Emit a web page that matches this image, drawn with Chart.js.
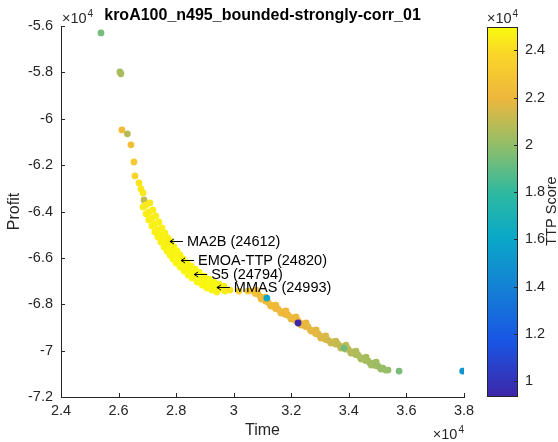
<!DOCTYPE html>
<html><head><meta charset="utf-8">
<script src="https://cdn.jsdelivr.net/npm/chart.js@4.4.0/dist/chart.umd.min.js"></script>
<style>
html,body{margin:0;padding:0;background:#fff;}
#wrap{position:relative;width:558px;height:442px;overflow:hidden;}
#main{position:absolute;left:0;top:0;}
#cbar{position:absolute;left:480px;top:0;}
</style></head><body>
<div id="wrap"><canvas id="main" width="558" height="442"></canvas><canvas id="cbar" width="78" height="442"></canvas></div>
<script>
const titleText = 'kroA100_n495_bounded-strongly-corr_01';
const xLabel = 'Time';
const yLabel = 'Profit';
const cbLabel = 'TTP Score';
const xTickValues = [24000, 26000, 28000, 30000, 32000, 34000, 36000, 38000];
const xTickLabels = ['2.4', '2.6', '2.8', '3', '3.2', '3.4', '3.6', '3.8'];
const yTickValues = [-72000, -70000, -68000, -66000, -64000, -62000, -60000, -58000, -56000];
const yTickLabels = ['-7.2', '-7', '-6.8', '-6.6', '-6.4', '-6.2', '-6', '-5.8', '-5.6'];
const cbTickValues = [10000, 12000, 14000, 16000, 18000, 20000, 22000, 24000];
const cbTickLabels = ['1', '1.2', '1.4', '1.6', '1.8', '2', '2.2', '2.4'];
const cbMin = 9320, cbMax = 24993;

const timeVals = [
  31710, 34740,
  25390, 26045, 26080, 26115, 26305, 26430, 26535, 26570, 26710, 26780, 26850, 26885,
  26850, 26955, 27050, 27155, 27260, 27365, 27470, 27575, 27680, 27785, 27890, 27995, 28135, 28275, 28415, 28555, 28730, 28905, 29065, 29240, 29415,
  26955, 27050, 27155, 27260, 27365, 27470, 27575, 27680, 27785, 27890, 27995, 28100, 28240, 28380, 28520, 28660, 28835, 29010, 29170, 29345, 29520, 29695,
  27085, 27190, 27295, 27400, 27505, 27610, 27715, 27820, 27925, 28030, 28135, 28240, 28380, 28520, 28660, 28800, 28975, 29135, 29310, 29485, 29660,
  29870, 30180, 30495,
  30955, 31290, 31640, 31990, 32340, 32690, 33025, 33375, 33725, 34075, 34425, 34775, 35115,
  30675, 30850, 31010, 31185, 31360, 31535, 31710, 31885, 32060, 32235, 32410, 32585, 32760, 32935, 33095, 33270, 33445, 33620, 33795, 33970, 34145, 34320, 34495, 34670, 34845, 35010, 35185, 35360,
  30780, 31115, 31465, 31815, 32165, 32515, 32865, 33200, 33550, 33900, 34250, 34600, 34950,
  30757, 30931, 31104, 31278, 31452, 31625, 31799, 31973, 32147, 32320, 32494, 32668, 32841, 33015, 33189, 33362, 33536, 33710, 33883, 34057, 34231, 34405, 34578, 34752, 34926, 35099, 35273,
  32235, 31150, 33830, 35745, 37955
];
const profitVals = [
  -68375, -70537,
  -56300, -57975, -58060, -60480, -60650, -61125, -61860, -62465, -62770, -63025, -63200, -63500,
  -63805, -64103, -64362, -64622, -64881, -65097, -65313, -65530, -65703, -65875, -66048, -66221, -66394, -66567, -66740, -66870, -67043, -67173, -67302, -67389, -67475,
  -63720, -64020, -64276, -64535, -64794, -65011, -65227, -65443, -65616, -65789, -65962, -66135, -66308, -66481, -66611, -66740, -66913, -67043, -67173, -67259, -67346, -67432,
  -63632, -63930, -64189, -64449, -64708, -64924, -65140, -65357, -65530, -65703, -65875, -66048, -66221, -66351, -66481, -66611, -66784, -66913, -67043, -67129, -67216,
  -67390, -67430, -67430,
  -67778, -68073, -68375, -68635, -68894, -69154, -69456, -69673, -69889, -70105, -70364, -70624, -70797,
  -67432, -67562, -67735, -67908, -68073, -68202, -68332, -68462, -68592, -68721, -68851, -68981, -69154, -69283, -69413, -69543, -69629, -69716, -69845, -69932, -70062, -70191, -70321, -70451, -70537, -70667, -70754, -70840,
  -67389, -67692, -68037, -68289, -68548, -68808, -69110, -69370, -69586, -69759, -70018, -70278, -70494,
  -67537, -67688, -67861, -68033, -68184, -68314, -68443, -68572, -68702, -68831, -68961, -69112, -69262, -69392, -69521, -69629, -69715, -69823, -69932, -70039, -70168, -70298, -70427, -70535, -70643, -70750, -70837,
  -68808, -67735, -69889, -70883, -70883
];
const ttpVals = [
  19000, 16300,
  19400, 20400, 20500, 22300, 20800, 22500, 23100, 23700, 24300, 24400, 24450, 21000,
  24500, 24600, 24550, 24650, 24600, 24700, 24650, 24750, 24700, 24800, 24750, 24800, 24850, 24800, 24850, 24900, 24850, 24900, 24850, 24800, 24700,
  24400, 24550, 24600, 24650, 24700, 24650, 24750, 24700, 24800, 24750, 24850, 24800, 24850, 24800, 24900, 24850, 24900, 24850, 24900, 24800, 24700, 24500,
  24500, 24550, 24600, 24650, 24600, 24700, 24650, 24750, 24700, 24800, 24750, 24800, 24850, 24800, 24850, 24900, 24850, 24900, 24850, 24800, 24600,
  24300, 23600, 23000,
  22300, 22200, 22100, 22000, 21900, 21800, 21600, 21300, 21000, 20700, 20500, 20300, 20100,
  22800, 22400, 22200, 22200, 22200, 22200, 22100, 22100, 22000, 22000, 21900, 21900, 21800, 21700, 21600, 21400, 21200, 21100, 21000, 20800, 20700, 20600, 20500, 20400, 20300, 20200, 20100, 20000,
  22600, 22200, 22200, 22100, 22000, 21900, 21750, 21500, 21150, 20900, 20650, 20450, 20250,
  22600, 22300, 22200, 22200, 22200, 22150, 22100, 22050, 22000, 21950, 21900, 21850, 21750, 21650, 21500, 21300, 21150, 21050, 20900, 20750, 20650, 20550, 20450, 20350, 20250, 20150, 20050,
  9320, 16000, 19300, 19500, 15000
];

const annoNames = ['MA2B (24612)', 'EMOA-TTP (24820)', 'S5 (24794)', 'MMAS (24993)'];
const annoTime = [27785, 28170, 28625, 29415];
const annoProfit = [-65270, -66092, -66697, -67259];
const annoScore = [24612, 24820, 24794, 24993];

const cmapStops = [
  [0.00, 62, 38, 168],
  [0.15, 25, 85, 228],
  [0.30, 20, 130, 212],
  [0.43, 10, 168, 200],
  [0.55, 45, 185, 160],
  [0.68, 145, 190, 105],
  [0.81, 238, 183, 60],
  [0.93, 250, 215, 40],
  [1.00, 249, 251, 14]
];
const FF = '"Liberation Sans", Arial, Helvetica, sans-serif';
const AX = '#262626';
const TICK_FS = 14.5;

function cmapT(t) {
  t = Math.max(0, Math.min(1, t));
  for (let i = 1; i < cmapStops.length; i++) {
    const a = cmapStops[i - 1], b = cmapStops[i];
    if (t <= b[0]) {
      const f = (t - a[0]) / (b[0] - a[0]);
      return [0, 1, 2].map(k => Math.round(a[k + 1] + f * (b[k + 1] - a[k + 1])));
    }
  }
  const l = cmapStops[cmapStops.length - 1];
  return [l[1], l[2], l[3]];
}
function cmap(v) {
  const c = cmapT((v - cbMin) / (cbMax - cbMin));
  return `rgb(${c[0]},${c[1]},${c[2]})`;
}

function drawExp(ctx, x, y, align) {
  ctx.save();
  ctx.font = `${TICK_FS}px ${FF}`;
  const w1 = ctx.measureText('×10').width;
  ctx.font = `10px ${FF}`;
  const w2 = ctx.measureText('4').width;
  const x0 = align === 'right' ? x - w1 - w2 - 1 : x;
  ctx.fillStyle = AX;
  ctx.textAlign = 'left';
  ctx.textBaseline = 'alphabetic';
  ctx.font = `${TICK_FS}px ${FF}`;
  ctx.fillText('×10', x0, y);
  ctx.font = `10px ${FF}`;
  ctx.fillText('4', x0 + w1 + 1, y - 6);
  ctx.restore();
}

const mainPlugin = {
  id: 'mainDeco',
  afterDraw(chart) {
    const ctx = chart.ctx;
    const ca = chart.chartArea;
    const xs = chart.scales.x, ys = chart.scales.y;
    ctx.save();
    ctx.strokeStyle = AX;
    ctx.lineWidth = 1;
    ctx.beginPath();
    xTickValues.forEach(v => {
      const px = Math.round(xs.getPixelForValue(v)) + 0.5;
      ctx.moveTo(px, ca.bottom);
      ctx.lineTo(px, ca.bottom - 4);
    });
    yTickValues.forEach(v => {
      const py = Math.round(ys.getPixelForValue(v)) + 0.5;
      ctx.moveTo(ca.left, py);
      ctx.lineTo(ca.left + 4, py);
    });
    ctx.stroke();
    ctx.strokeStyle = '#000';
    ctx.fillStyle = '#000';
    ctx.font = `${TICK_FS}px ${FF}`;
    ctx.textAlign = 'left';
    ctx.textBaseline = 'middle';
    annoNames.forEach((name, i) => {
      const px = xs.getPixelForValue(annoTime[i]);
      const py = Math.round(ys.getPixelForValue(annoProfit[i])) + 0.5;
      ctx.beginPath();
      ctx.moveTo(px, py);
      ctx.lineTo(px + 13, py);
      ctx.moveTo(px + 4, py - 2.5);
      ctx.lineTo(px, py);
      ctx.lineTo(px + 4, py + 2.5);
      ctx.stroke();
      ctx.fillText(name, px + 17, py);
    });
    ctx.fillStyle = '#000';
    ctx.font = `bold 16px ${FF}`;
    ctx.textAlign = 'center';
    ctx.textBaseline = 'alphabetic';
    ctx.fillText(titleText, (ca.left + ca.right) / 2, 20);
    ctx.restore();
    drawExp(ctx, ca.left + 1, 23, 'left');
    drawExp(ctx, ca.right, 439, 'right');
  }
};

new Chart(document.getElementById('main'), {
  type: 'scatter',
  data: {
    datasets: [
      {
        data: annoTime.map((x, i) => ({ x: x, y: annoProfit[i] })),
        pointBackgroundColor: annoScore.map(cmap),
        pointRadius: 3.4, pointHoverRadius: 3.4, pointBorderWidth: 0
      },
      {
        data: timeVals.map((x, i) => ({ x: x, y: profitVals[i] })),
        pointBackgroundColor: ttpVals.map(cmap),
        pointRadius: 3.4, pointHoverRadius: 3.4, pointBorderWidth: 0
      }
    ]
  },
  options: {
    responsive: false,
    animation: false,
    devicePixelRatio: 1,
    layout: { padding: { left: 0, right: 94, top: 26, bottom: 0 } },
    plugins: { legend: { display: false }, tooltip: { enabled: false } },
    scales: {
      x: {
        type: 'linear', min: 24000, max: 38000,
        afterBuildTicks: s => { s.ticks = xTickValues.map(v => ({ value: v })); },
        afterFit: s => { s.height = 45; },
        grid: { display: false, drawTicks: false },
        border: { display: true, color: AX, width: 1 },
        ticks: { padding: 5, color: AX, font: { family: FF, size: TICK_FS }, maxRotation: 0, autoSkip: false,
          callback: (v, i) => xTickLabels[i] },
        title: { display: true, text: xLabel, color: AX, font: { family: FF, size: 16 }, padding: { top: 0, bottom: 2 } }
      },
      y: {
        type: 'linear', min: -72000, max: -56000,
        afterBuildTicks: s => { s.ticks = yTickValues.map(v => ({ value: v })); },
        afterFit: s => { s.width = 61; },
        grid: { display: false, drawTicks: false },
        border: { display: true, color: AX, width: 1 },
        ticks: { padding: 8, color: AX, font: { family: FF, size: TICK_FS }, autoSkip: false,
          callback: (v, i) => yTickLabels[i] },
        title: { display: true, text: yLabel, color: AX, font: { family: FF, size: 16 }, padding: { top: 5, bottom: 0 } }
      }
    }
  },
  plugins: [mainPlugin]
});

const cbPlugin = {
  id: 'cbDeco',
  afterDraw(chart) {
    const ctx = chart.ctx;
    const ca = chart.chartArea;
    const ys = chart.scales.y;
    ctx.save();
    ctx.strokeStyle = AX;
    ctx.lineWidth = 1;
    ctx.strokeRect(Math.round(ca.left) + 0.5, Math.round(ca.top) + 0.5, Math.round(ca.right - ca.left) - 1, Math.round(ca.bottom - ca.top) - 1);
    ctx.beginPath();
    cbTickValues.forEach(v => {
      const py = Math.round(ys.getPixelForValue(v)) + 0.5;
      ctx.moveTo(ca.right, py);
      ctx.lineTo(ca.right - 4, py);
    });
    ctx.stroke();
    ctx.translate(72, (ca.top + ca.bottom) / 2 - 1);
    ctx.rotate(-Math.PI / 2);
    ctx.fillStyle = AX;
    ctx.font = `${TICK_FS}px ${FF}`;
    ctx.textAlign = 'center';
    ctx.textBaseline = 'middle';
    ctx.fillText(cbLabel, 0, 0);
    ctx.restore();
    drawExp(ctx, ca.left, 23, 'left');
  }
};

new Chart(document.getElementById('cbar'), {
  type: 'bar',
  data: {
    labels: [''],
    datasets: [{
      data: [[cbMin, cbMax]],
      categoryPercentage: 1, barPercentage: 1, borderWidth: 0,
      backgroundColor: (c) => {
        const ch = c.chart;
        const area = ch.chartArea;
        if (!area) return '#888';
        const g = ch.ctx.createLinearGradient(0, area.bottom, 0, area.top);
        cmapStops.forEach(s => g.addColorStop(s[0], `rgb(${s[1]},${s[2]},${s[3]})`));
        return g;
      }
    }]
  },
  options: {
    responsive: false,
    animation: false,
    devicePixelRatio: 1,
    layout: { padding: { left: 7, right: 0, top: 27, bottom: 45 } },
    plugins: { legend: { display: false }, tooltip: { enabled: false } },
    scales: {
      x: { display: false },
      y: {
        position: 'right', min: cbMin, max: cbMax,
        afterBuildTicks: s => { s.ticks = cbTickValues.map(v => ({ value: v })); },
        afterFit: s => { s.width = 40; },
        grid: { display: false, drawTicks: false },
        border: { display: false },
        ticks: { padding: 7, color: AX, font: { family: FF, size: TICK_FS }, autoSkip: false,
          callback: (v, i) => cbTickLabels[i] }
      }
    }
  },
  plugins: [cbPlugin]
});
</script>
</body></html>
